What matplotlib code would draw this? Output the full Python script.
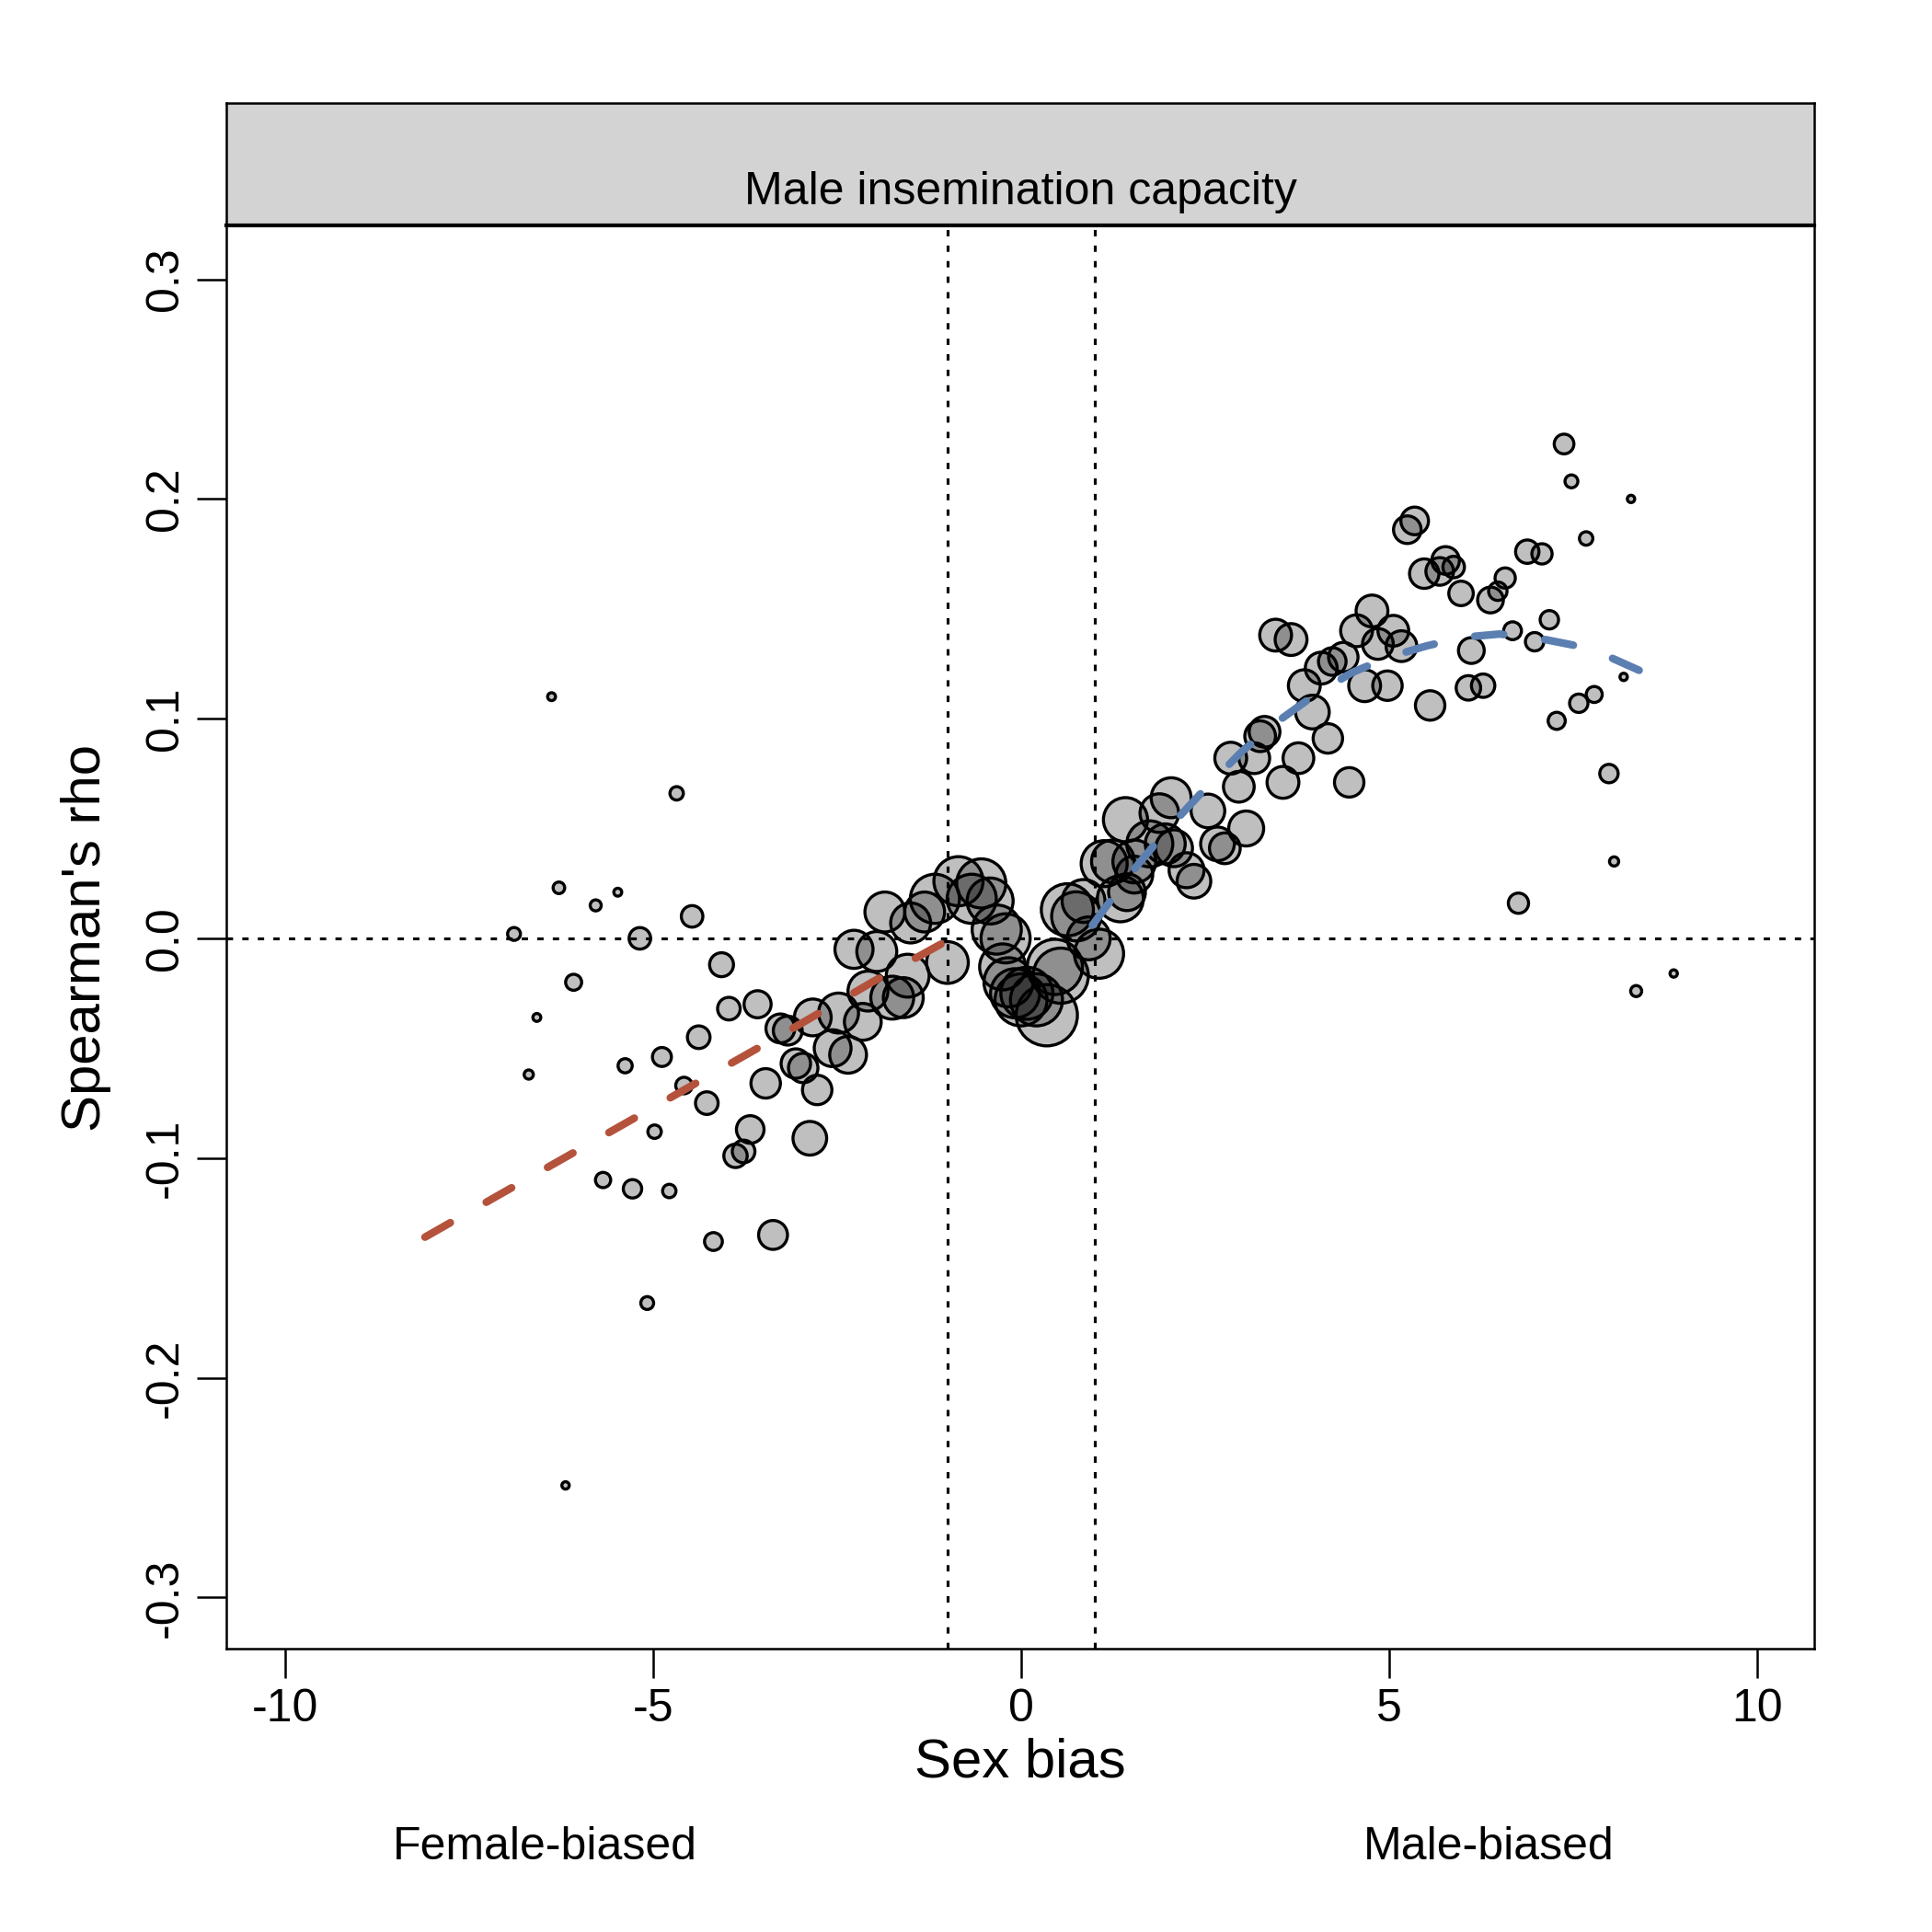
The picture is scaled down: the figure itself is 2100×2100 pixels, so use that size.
import matplotlib
matplotlib.use("Agg")
import matplotlib.pyplot as plt
from matplotlib.patches import Rectangle

plt.rcParams['font.family'] = ['Liberation Sans', 'DejaVu Sans']

# gene bins: sex bias, Spearman's rho, bubble weight (bin size)
sex_bias = [
    -6.38, -4.68, -6.28, -5.48, -5.78, -6.89, -5.18, -4.47, -6.08, -6.58,
    -4.07, -6.69, -5.38, -4.88, -4.38, -3.97, -3.58, -3.27, -3.17, -3.06,
    -2.96, -2.77, -3.47, -4.58, -4.27, -4.98, -3.68, -3.88, -3.77, -2.87,
    -5.68, -5.28, -4.78, -3.37, -4.18, -5.08, -6.19,
    -2.27, -1.96, -1.85, -1.50, -1.31, -1.17, -0.85, -0.54, -0.67, -0.42,
    -1.00, -1.54, -1.60, -1.75, -2.08, -2.48, -2.15, -2.56, -2.35, -2.83,
    -0.33, -0.21, -0.25, -0.17, -0.08, 0.00, 0.08, 0.21, 0.35, 0.46,
    0.54, 0.63, 0.75, 0.85, 0.92, 1.06, 1.13, 1.25, 1.42, 1.35,
    1.54, 1.75, 1.96, 2.08, 2.25, 1.88, 2.04, 2.35, 1.54, 1.44,
    2.54, 2.67, 2.77, 2.85, 2.96, 3.06, 3.17, 3.25, 3.31, 3.56,
    3.77, 4.17, 4.46, 3.96, 3.46, 3.67, 3.85, 4.08, 4.23, 4.38,
    4.56, 4.67, 4.77, 4.85, 4.98, 5.06, 5.17, 5.25, 5.35, 5.48,
    5.69, 5.77, 5.88, 5.98, 5.56, 6.12, 6.08, 6.28, 6.38, 6.48,
    6.58, 6.68, 6.88, 6.98, 7.08, 7.18, 7.38, 7.48, 7.68, 8.29,
    7.28, 7.58, 7.79, 8.19, 7.99, 8.06, 6.76, 8.36, 8.87,
]
rho = [
    0.110, 0.066, 0.023, 0.021, 0.015, 0.002, 0.000, 0.010, -0.020, -0.036,
    -0.012, -0.062, -0.058, -0.054, -0.045, -0.032, -0.030, -0.041, -0.042, -0.057,
    -0.059, -0.069, -0.066, -0.067, -0.075, -0.088, -0.087, -0.099, -0.097, -0.091,
    -0.110, -0.114, -0.115, -0.135, -0.138, -0.166, -0.249,
    -0.005, -0.006, 0.012, 0.007, 0.012, 0.018, 0.026, 0.025, 0.018, 0.017,
    -0.011, -0.017, -0.027, -0.027, -0.024, -0.034, -0.038, -0.050, -0.053, -0.036,
    0.004, 0.000, -0.013, -0.020, -0.025, -0.028, -0.025, -0.028, -0.035, -0.013,
    -0.017, 0.013, 0.010, 0.017, 0.000, -0.007, 0.034, 0.035, 0.054, 0.018,
    0.035, 0.043, 0.043, 0.041, 0.031, 0.057, 0.064, 0.026, 0.029, 0.021,
    0.058, 0.043, 0.041, 0.082, 0.069, 0.050, 0.082, 0.092, 0.094, 0.071,
    0.082, 0.091, 0.071, 0.103, 0.138, 0.136, 0.115, 0.123, 0.126, 0.128,
    0.140, 0.115, 0.149, 0.134, 0.115, 0.140, 0.133, 0.186, 0.190, 0.166,
    0.167, 0.172, 0.169, 0.157, 0.106, 0.131, 0.114, 0.115, 0.154, 0.158,
    0.164, 0.140, 0.176, 0.135, 0.175, 0.145, 0.225, 0.208, 0.182, 0.200,
    0.099, 0.107, 0.111, 0.119, 0.075, 0.035, 0.016, -0.024, -0.016,
]
weight = [
    4.3, 7.3, 6.3, 4.3, 6.0, 7.0, 11.7, 11.7, 8.7, 4.3,
    13.0, 5.0, 7.7, 10.3, 12.3, 12.3, 14.7, 15.7, 15.7, 16.0,
    16.0, 16.0, 16.0, 9.0, 12.3, 7.3, 15.0, 12.7, 12.3, 18.3,
    8.3, 10.0, 7.3, 15.7, 9.7, 7.0, 4.0,
    20.7, 21.7, 21.7, 21.7, 21.7, 26.7, 26.7, 26.7, 26.7, 25.0,
    22.7, 23.3, 21.7, 23.3, 21.7, 21.7, 20.0, 20.0, 20.0, 20.0,
    26.7, 26.7, 25.0, 26.7, 26.7, 28.3, 28.3, 28.3, 33.3, 30.0,
    30.0, 28.3, 26.7, 23.3, 23.3, 26.7, 25.0, 23.3, 24.0, 25.0,
    23.3, 25.0, 21.7, 20.0, 19.0, 21.0, 21.7, 18.3, 20.0, 20.0,
    18.3, 18.3, 16.7, 17.3, 16.7, 19.0, 16.7, 16.7, 16.7, 17.3,
    16.7, 16.0, 16.0, 18.3, 17.3, 17.3, 17.3, 17.3, 15.0, 16.0,
    17.3, 17.3, 17.3, 16.7, 16.0, 16.7, 16.7, 15.0, 15.0, 16.0,
    15.0, 15.0, 11.7, 13.3, 16.0, 14.0, 13.3, 12.7, 14.0, 10.0,
    11.0, 9.7, 12.7, 10.0, 11.0, 10.0, 10.7, 7.0, 7.3, 4.0,
    9.3, 10.0, 8.7, 4.0, 10.0, 5.0, 11.0, 6.0, 4.0,
]

# smoothed trends
female_x = [-8.1, -7, -6, -5, -4, -3, -2, -1]
female_y = [-0.136, -0.115, -0.096, -0.077, -0.058, -0.039, -0.0195, -0.001]
male_x = [0.97, 1.5, 2, 2.5, 3, 3.5, 4, 4.5, 5, 5.5, 6, 6.5, 7, 7.5, 8, 8.4]
male_y = [0.006, 0.030, 0.050, 0.068, 0.085, 0.099, 0.111, 0.121, 0.128,
          0.133, 0.137, 0.1385, 0.1368, 0.1335, 0.128, 0.122]

W = 2100
fig = plt.figure(figsize=(7, 7), dpi=300)
ax = fig.add_axes([246 / W, 1 - 1792 / W, (1972 - 246) / W, (1792 - 245) / W])

# strip on top
strip = fig.add_axes([246 / W, 1 - 245 / W, (1972 - 246) / W, (245 - 112) / W])
strip.add_patch(Rectangle((0, 0), 1, 1, facecolor='#d3d3d3', edgecolor='none'))
strip.set_xlim(0, 1)
strip.set_ylim(0, 1)
strip.set_xticks([])
strip.set_yticks([])
for sp in strip.spines.values():
    sp.set_linewidth(0.6)
strip.spines['bottom'].set_linewidth(1.0)
fig.text(1109 / W, 1 - 209 / W, 'Male insemination capacity', ha='center', va='center', fontsize=12)

ax.axhline(0, color='black', lw=0.75, ls=(0, (2.2, 3.2)), zorder=1)
ax.axvline(-1, color='black', lw=0.75, ls=(0, (2.2, 3.2)), zorder=1)
ax.axvline(1, color='black', lw=0.75, ls=(0, (2.2, 3.2)), zorder=1)

sizes = [(2 * r * 72 / 300) ** 2 for r in weight]
ax.scatter(sex_bias, rho, s=sizes, facecolor=(0, 0, 0, 0.25), edgecolor='black',
           linewidths=0.8, zorder=2)

ax.plot(female_x, female_y, color='#b5523b', lw=2.0, ls=(0, (3.8, 5.4)),
        dash_capstyle='round', zorder=3)
ax.plot(male_x, male_y, color='#5b7fb1', lw=2.0, ls=(0, (3.8, 5.4)),
        dash_capstyle='round', zorder=3)

ax.set_xlim(-10.8, 10.78)
ax.set_ylim(-0.3233, 0.3245)
ax.set_xticks([-10, -5, 0, 5, 10])
ax.set_xticklabels(['-10', '-5', '0', '5', '10'])
ax.set_yticks([-0.3, -0.2, -0.1, 0.0, 0.1, 0.2, 0.3])
ax.set_yticklabels(['-0.3', '-0.2', '-0.1', '0.0', '0.1', '0.2', '0.3'],
                   rotation=90, va='center')
ax.tick_params(direction='out', length=7.7, width=0.6, labelsize=12, pad=2.6)
for sp in ax.spines.values():
    sp.set_linewidth(0.6)

fig.text(1109 / W, 1 - 1916 / W, 'Sex bias', ha='center', va='center', fontsize=14.4)
fig.text(94 / W, 1 - 1019 / W, "Spearman's rho", ha='center', va='center',
         rotation=90, fontsize=14.4)
fig.text(592 / W, 1 - 2008 / W, 'Female-biased', ha='center', va='center', fontsize=12)
fig.text(1618 / W, 1 - 2008 / W, 'Male-biased', ha='center', va='center', fontsize=12)

fig.savefig('out.png', dpi=300)
